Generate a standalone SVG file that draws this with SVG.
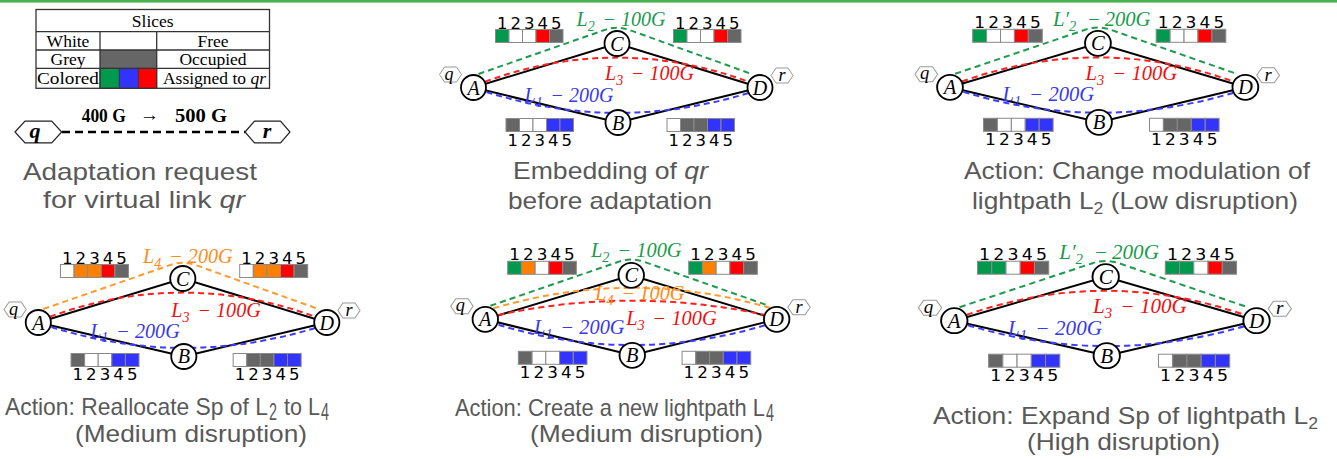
<svg xmlns="http://www.w3.org/2000/svg" width="1337" height="459" viewBox="0 0 1337 459">
<style>
.link{fill:none;stroke:#000;stroke-width:2}
.dash{fill:none;stroke-width:2;stroke-dasharray:6 4}
.dg{stroke:#1f9a4f}.dr{stroke:#ff2020}.db{stroke:#3d3dff}.do{stroke:#ff9a2e}
.node circle{fill:#fff;stroke:#000;stroke-width:1.8}
.nl{font-family:"Liberation Serif",serif;font-style:italic;font-size:20px;text-anchor:middle;fill:#000}
.hex{fill:#fff;stroke:#999;stroke-width:1}
.hl{font-family:"Liberation Serif",serif;font-style:italic;font-size:18px;text-anchor:middle;fill:#000}
.cells rect{stroke:#8a8a8a;stroke-width:1}
.w{fill:#fff}.k{fill:#666}.g{fill:#00994d}.r{fill:#ff0000}.b{fill:#3333ff}.o{fill:#ff8000}
.num{font-family:"DejaVu Sans",sans-serif;font-size:16.5px;text-anchor:middle;fill:#000}
.lab{font-family:"Liberation Serif",serif;font-style:italic;font-size:20px}
.sub{font-size:14px}
.tg{fill:#1a9b4b}.tr{fill:#f01010}.tb{fill:#3838f0}.to{fill:#ff8c1a}
.cap{font-family:"Liberation Sans",Arial,sans-serif;font-size:24px;fill:#595959}
.cs{font-size:16px}
.leg{font-family:"Liberation Serif",serif;font-size:17.5px;text-anchor:middle;fill:#000}
.tline{stroke:#333;stroke-width:1.3;fill:none}
.rq{fill:#fff;stroke:#222;stroke-width:1.2}
.rql{font-family:"Liberation Serif",serif;font-style:italic;font-weight:bold;font-size:22px;text-anchor:middle;fill:#000}
.rb{font-family:"Liberation Serif",serif;font-weight:bold;font-size:19px;fill:#000}
</style>

<rect x="0" y="0" width="1337" height="2.6" fill="#4caf50"/>

<!-- Legend -->
<g id="legend">
  <rect x="100" y="50" width="56.7" height="18.3" fill="#666"/>
  <rect x="100" y="68.3" width="19.3" height="20" fill="#00994d" stroke="#333" stroke-width="0.8"/>
  <rect x="119.3" y="68.3" width="19" height="20" fill="#3333ff" stroke="#333" stroke-width="0.8"/>
  <rect x="138.3" y="68.3" width="18.4" height="20" fill="#ff0000" stroke="#333" stroke-width="0.8"/>
  <rect class="tline" x="36" y="9.5" width="233.5" height="78.8"/>
  <path class="tline" d="M36,31.7H269.5M36,50H269.5M36,68.3H269.5M100,31.7V88.3M156.7,31.7V88.3"/>
  <text class="leg" x="152.7" y="27">Slices</text>
  <text class="leg" x="68" y="46.5">White</text>
  <text class="leg" x="213" y="46.5">Free</text>
  <text class="leg" x="68" y="65">Grey</text>
  <text class="leg" x="213" y="65">Occupied</text>
  <text class="leg" x="68" y="84" textLength="62" lengthAdjust="spacingAndGlyphs">Colored</text>
  <text class="leg" x="214.5" y="84">Assigned to <tspan font-style="italic">qr</tspan></text>
</g>

<!-- Adaptation request -->
<g id="request-link">
  <line x1="62" y1="132" x2="245" y2="132" stroke="#000" stroke-width="2.6" stroke-dasharray="8 5"/>
  <text class="rb" x="81.7" y="122" textLength="44" lengthAdjust="spacingAndGlyphs">400 G</text>
  <text class="rb" x="140" y="121" font-size="20">→</text>
  <text class="rb" x="175" y="122" textLength="52" lengthAdjust="spacingAndGlyphs">500 G</text>
</g>
<g id="req-q">
  <polygon class="rq" points="15,132 25,121.2 51.7,121.2 61.7,132 51.7,142.8 25,142.8"/>
  <text class="rql" x="35" y="138">q</text>
</g>
<g id="req-r">
  <polygon class="rq" points="245,132 254.5,121.2 280.5,121.2 290,132 280.5,142.8 254.5,142.8"/>
  <text class="rql" x="267" y="138">r</text>
</g>
<g id="caption-request">
  <text class="cap" x="23" y="180" textLength="234" lengthAdjust="spacingAndGlyphs">Adaptation request</text>
  <text class="cap" x="43" y="208" textLength="202" lengthAdjust="spacingAndGlyphs">for virtual link <tspan font-style="italic">qr</tspan></text>
</g>

<!-- Panel 2: embedding -->
<g id="panel-embedding" transform="translate(473.5,87.5)">
  <g id="p2-connectors">
    <path class="link" d="M0,0 L143.5,-44 L286.5,0 M0,0 L144.5,35 L286.5,0"/>
    <path class="dash dg" d="M5,-13.5 L131,-57.5 Q143.5,-62 156,-57.5 L278,-13.5"/>
    <path class="dash dr" d="M11.5,-5.8 Q143.5,-54 275,-5.8"/>
    <path class="dash db" d="M13,4.5 Q144,46 276.5,5"/>
  </g>
  <text class="lab tg" x="103" y="-61.5">L<tspan class="sub" dy="5">2</tspan><tspan x="129" dy="-5">−</tspan><tspan x="147.5">100G</tspan></text>
  <text class="lab tr" x="131.5" y="-7.5">L<tspan class="sub" dy="5">3</tspan><tspan x="157.5" dy="-5">−</tspan><tspan x="176">100G</tspan></text>
  <text class="lab tb" x="51" y="14">L<tspan class="sub" dy="5">1</tspan><tspan x="77" dy="-5">−</tspan><tspan x="95.5">200G</tspan></text>
  <g id="p2-slices-AC" class="cells"><rect class="g" x="22" y="-58" width="13.5" height="13"/><rect class="w" x="35.5" y="-58" width="13.5" height="13"/><rect class="w" x="49" y="-58" width="13.5" height="13"/><rect class="r" x="62.5" y="-58" width="13.5" height="13"/><rect class="k" x="76" y="-58" width="13.5" height="13"/><text class="num" x="28.75 42.25 55.75 69.25 82.75" y="-59">12345</text></g>
  <g id="p2-slices-CD" class="cells"><rect class="g" x="200" y="-58" width="13.5" height="13"/><rect class="w" x="213.5" y="-58" width="13.5" height="13"/><rect class="w" x="227" y="-58" width="13.5" height="13"/><rect class="r" x="240.5" y="-58" width="13.5" height="13"/><rect class="k" x="254" y="-58" width="13.5" height="13"/><text class="num" x="206.75 220.25 233.75 247.25 260.75" y="-59">12345</text></g>
  <g id="p2-slices-AB" class="cells"><rect class="k" x="32.5" y="31" width="13.5" height="13"/><rect class="w" x="46" y="31" width="13.5" height="13"/><rect class="w" x="59.5" y="31" width="13.5" height="13"/><rect class="b" x="73" y="31" width="13.5" height="13"/><rect class="b" x="86.5" y="31" width="13.5" height="13"/><text class="num" x="39.25 52.75 66.25 79.75 93.25" y="58">12345</text></g>
  <g id="p2-slices-BD" class="cells"><rect class="w" x="193.5" y="31" width="13.5" height="13"/><rect class="k" x="207" y="31" width="13.5" height="13"/><rect class="k" x="220.5" y="31" width="13.5" height="13"/><rect class="b" x="234" y="31" width="13.5" height="13"/><rect class="b" x="247.5" y="31" width="13.5" height="13"/><text class="num" x="200.25 213.75 227.25 240.75 254.25" y="58">12345</text></g>
  <g id="p2-q"><polygon class="hex" points="-34,-13 -29,-20.5 -17,-20.5 -12,-13 -17,-5.5 -29,-5.5"/><text class="hl" x="-24.5" y="-8">q</text></g>
  <g id="p2-r"><polygon class="hex" points="297.5,-12 302.5,-19.5 314.5,-19.5 319.5,-12 314.5,-4.5 302.5,-4.5"/><text class="hl" x="308.5" y="-6.5">r</text></g>
  <g id="p2-A" class="node"><circle cx="0" cy="0" r="12.5"/><text class="nl" x="0" y="7">A</text></g>
  <g id="p2-B" class="node"><circle cx="144.5" cy="35" r="12.5"/><text class="nl" x="144.5" y="42">B</text></g>
  <g id="p2-C" class="node"><circle cx="143.5" cy="-44" r="12.5"/><text class="nl" x="143.5" y="-37">C</text></g>
  <g id="p2-D" class="node"><circle cx="286.5" cy="0" r="12.5"/><text class="nl" x="286.5" y="7">D</text></g>
</g>
<g id="caption-embedding">
  <text class="cap" x="513" y="178.5" textLength="195" lengthAdjust="spacingAndGlyphs">Embedding of <tspan font-style="italic">qr</tspan></text>
  <text class="cap" x="508" y="208.5" textLength="204" lengthAdjust="spacingAndGlyphs">before adaptation</text>
</g>

<!-- Panel 3: change modulation -->
<g id="panel-modulation" transform="translate(950,87.3) scale(1.031,1)">
  <g id="p3-connectors">
    <path class="link" d="M0,0 L143.5,-44 L286.5,0 M0,0 L144.5,35 L286.5,0"/>
    <path class="dash dg" d="M5,-13.5 L131,-57.5 Q143.5,-62 156,-57.5 L278,-13.5"/>
    <path class="dash dr" d="M11.5,-5.8 Q143.5,-54 275,-5.8"/>
    <path class="dash db" d="M13,4.5 Q144,46 276.5,5"/>
  </g>
  <text class="lab tg" x="100" y="-61.5">L′<tspan class="sub" dy="5">2</tspan><tspan x="133" dy="-5">−</tspan><tspan x="150">200G</tspan></text>
  <text class="lab tr" x="131.5" y="-7.5">L<tspan class="sub" dy="5">3</tspan><tspan x="157.5" dy="-5">−</tspan><tspan x="176">100G</tspan></text>
  <text class="lab tb" x="51" y="14">L<tspan class="sub" dy="5">1</tspan><tspan x="77" dy="-5">−</tspan><tspan x="95.5">200G</tspan></text>
  <g id="p3-slices-AC" class="cells"><rect class="g" x="22" y="-58" width="13.5" height="13"/><rect class="w" x="35.5" y="-58" width="13.5" height="13"/><rect class="w" x="49" y="-58" width="13.5" height="13"/><rect class="r" x="62.5" y="-58" width="13.5" height="13"/><rect class="k" x="76" y="-58" width="13.5" height="13"/><text class="num" x="28.75 42.25 55.75 69.25 82.75" y="-59">12345</text></g>
  <g id="p3-slices-CD" class="cells"><rect class="g" x="200" y="-58" width="13.5" height="13"/><rect class="w" x="213.5" y="-58" width="13.5" height="13"/><rect class="w" x="227" y="-58" width="13.5" height="13"/><rect class="r" x="240.5" y="-58" width="13.5" height="13"/><rect class="k" x="254" y="-58" width="13.5" height="13"/><text class="num" x="206.75 220.25 233.75 247.25 260.75" y="-59">12345</text></g>
  <g id="p3-slices-AB" class="cells"><rect class="k" x="32.5" y="31" width="13.5" height="13"/><rect class="w" x="46" y="31" width="13.5" height="13"/><rect class="w" x="59.5" y="31" width="13.5" height="13"/><rect class="b" x="73" y="31" width="13.5" height="13"/><rect class="b" x="86.5" y="31" width="13.5" height="13"/><text class="num" x="39.25 52.75 66.25 79.75 93.25" y="58">12345</text></g>
  <g id="p3-slices-BD" class="cells"><rect class="w" x="193.5" y="31" width="13.5" height="13"/><rect class="k" x="207" y="31" width="13.5" height="13"/><rect class="k" x="220.5" y="31" width="13.5" height="13"/><rect class="b" x="234" y="31" width="13.5" height="13"/><rect class="b" x="247.5" y="31" width="13.5" height="13"/><text class="num" x="200.25 213.75 227.25 240.75 254.25" y="58">12345</text></g>
  <g id="p3-q"><polygon class="hex" points="-34,-13 -29,-20.5 -17,-20.5 -12,-13 -17,-5.5 -29,-5.5"/><text class="hl" x="-24.5" y="-8">q</text></g>
  <g id="p3-r"><polygon class="hex" points="297.5,-12 302.5,-19.5 314.5,-19.5 319.5,-12 314.5,-4.5 302.5,-4.5"/><text class="hl" x="308.5" y="-6.5">r</text></g>
  <g id="p3-A" class="node"><circle cx="0" cy="0" r="12.5"/><text class="nl" x="0" y="7">A</text></g>
  <g id="p3-B" class="node"><circle cx="144.5" cy="35" r="12.5"/><text class="nl" x="144.5" y="42">B</text></g>
  <g id="p3-C" class="node"><circle cx="143.5" cy="-44" r="12.5"/><text class="nl" x="143.5" y="-37">C</text></g>
  <g id="p3-D" class="node"><circle cx="286.5" cy="0" r="12.5"/><text class="nl" x="286.5" y="7">D</text></g>
</g>
<g id="caption-modulation">
  <text class="cap" x="964" y="178.5" textLength="346" lengthAdjust="spacingAndGlyphs">Action: Change modulation of</text>
  <text class="cap" x="972" y="208.5" textLength="326" lengthAdjust="spacingAndGlyphs">lightpath L<tspan class="cs" dy="5">2</tspan><tspan dy="-5"> (Low disruption)</tspan></text>
</g>

<!-- Panel 4: reallocate -->
<g id="panel-reallocate" transform="translate(38.3,322.5) scale(1.007,1)">
  <g id="p4-connectors">
    <path class="link" d="M0,0 L143.5,-44 L286.5,0 M0,0 L144.5,34 L286.5,0"/>
    <path class="dash do" d="M5,-13.5 L131,-57.5 Q143.5,-62 156,-57.5 L278,-13.5"/>
    <path class="dash dr" d="M11.5,-5.8 Q143.5,-54 275,-5.8"/>
    <path class="dash db" d="M13,4.5 Q144,46 276.5,5"/>
  </g>
  <text class="lab to" x="104" y="-60">L<tspan class="sub" dy="5">4</tspan><tspan x="130" dy="-5">−</tspan><tspan x="148.5">200G</tspan></text>
  <text class="lab tr" x="132" y="-6">L<tspan class="sub" dy="5">3</tspan><tspan x="158" dy="-5">−</tspan><tspan x="176.5">100G</tspan></text>
  <text class="lab tb" x="51.5" y="15">L<tspan class="sub" dy="5">1</tspan><tspan x="77.5" dy="-5">−</tspan><tspan x="96">200G</tspan></text>
  <g id="p4-slices-AC" class="cells"><rect class="w" x="22" y="-58" width="13.5" height="13"/><rect class="o" x="35.5" y="-58" width="13.5" height="13"/><rect class="o" x="49" y="-58" width="13.5" height="13"/><rect class="r" x="62.5" y="-58" width="13.5" height="13"/><rect class="k" x="76" y="-58" width="13.5" height="13"/><text class="num" x="28.75 42.25 55.75 69.25 82.75" y="-59">12345</text></g>
  <g id="p4-slices-CD" class="cells"><rect class="w" x="200" y="-58" width="13.5" height="13"/><rect class="o" x="213.5" y="-58" width="13.5" height="13"/><rect class="o" x="227" y="-58" width="13.5" height="13"/><rect class="r" x="240.5" y="-58" width="13.5" height="13"/><rect class="k" x="254" y="-58" width="13.5" height="13"/><text class="num" x="206.75 220.25 233.75 247.25 260.75" y="-59">12345</text></g>
  <g id="p4-slices-AB" class="cells"><rect class="k" x="32.5" y="31" width="13.5" height="13"/><rect class="w" x="46" y="31" width="13.5" height="13"/><rect class="w" x="59.5" y="31" width="13.5" height="13"/><rect class="b" x="73" y="31" width="13.5" height="13"/><rect class="b" x="86.5" y="31" width="13.5" height="13"/><text class="num" x="39.25 52.75 66.25 79.75 93.25" y="58">12345</text></g>
  <g id="p4-slices-BD" class="cells"><rect class="w" x="193.5" y="31" width="13.5" height="13"/><rect class="k" x="207" y="31" width="13.5" height="13"/><rect class="k" x="220.5" y="31" width="13.5" height="13"/><rect class="b" x="234" y="31" width="13.5" height="13"/><rect class="b" x="247.5" y="31" width="13.5" height="13"/><text class="num" x="200.25 213.75 227.25 240.75 254.25" y="58">12345</text></g>
  <g id="p4-q"><polygon class="hex" points="-34,-13 -29,-20.5 -17,-20.5 -12,-13 -17,-5.5 -29,-5.5"/><text class="hl" x="-24.5" y="-8">q</text></g>
  <g id="p4-r"><polygon class="hex" points="297.5,-12 302.5,-19.5 314.5,-19.5 319.5,-12 314.5,-4.5 302.5,-4.5"/><text class="hl" x="308.5" y="-6.5">r</text></g>
  <g id="p4-A" class="node"><circle cx="0" cy="0" r="12.5"/><text class="nl" x="0" y="7">A</text></g>
  <g id="p4-B" class="node"><circle cx="144.5" cy="34" r="12.5"/><text class="nl" x="144.5" y="41">B</text></g>
  <g id="p4-C" class="node"><circle cx="143.5" cy="-44" r="12.5"/><text class="nl" x="143.5" y="-37">C</text></g>
  <g id="p4-D" class="node"><circle cx="286.5" cy="0" r="12.5"/><text class="nl" x="286.5" y="7">D</text></g>
</g>
<g id="caption-reallocate">
  <text class="cap" x="5" y="415" font-size="23" textLength="263" lengthAdjust="spacingAndGlyphs">Action: Reallocate Sp of L</text>
  <text class="cap" x="269" y="420" font-size="15" textLength="8" lengthAdjust="spacingAndGlyphs">2</text>
  <text class="cap" x="284" y="415" font-size="23" textLength="36" lengthAdjust="spacingAndGlyphs">to L</text>
  <text class="cap" x="321" y="420" font-size="15" textLength="8" lengthAdjust="spacingAndGlyphs">4</text>
  <text class="cap" x="75" y="442" textLength="232" lengthAdjust="spacingAndGlyphs">(Medium disruption)</text>
</g>

<!-- Panel 5: new lightpath -->
<g id="panel-newpath" transform="translate(485.3,319.3) scale(1.017,1)">
  <g id="p5-connectors">
    <path class="link" d="M0,0 L143.5,-44 L286.5,0 M0,0 L144.5,36 L286.5,0"/>
    <path class="dash dg" d="M5,-13.5 L131,-57.5 Q143.5,-62 156,-57.5 L279,-13.5"/>
    <path class="dash do" d="M8,-11 Q145,-52 281,-11"/>
    <path class="dash dr" d="M12.8,-4.3 Q143.5,-33 275,-4.3"/>
    <path class="dash db" d="M13,5.5 Q144,46 276.5,5.5"/>
  </g>
  <text class="lab tg" x="104" y="-62.5">L<tspan class="sub" dy="5">2</tspan><tspan x="130" dy="-5">−</tspan><tspan x="148.5">100G</tspan></text>
  <text class="lab to" x="108" y="-19">L<tspan class="sub" dy="5">4</tspan><tspan x="134" dy="-5">−</tspan><tspan x="151.5">100G</tspan></text>
  <text class="lab tr" x="138.5" y="5.5">L<tspan class="sub" dy="5">3</tspan><tspan x="164.5" dy="-5">−</tspan><tspan x="183">100G</tspan></text>
  <text class="lab tb" x="48" y="14.7">L<tspan class="sub" dy="5">1</tspan><tspan x="74" dy="-5">−</tspan><tspan x="92.5">200G</tspan></text>
  <g id="p5-slices-AC" class="cells"><rect class="g" x="22" y="-58" width="13.5" height="13"/><rect class="o" x="35.5" y="-58" width="13.5" height="13"/><rect class="w" x="49" y="-58" width="13.5" height="13"/><rect class="r" x="62.5" y="-58" width="13.5" height="13"/><rect class="k" x="76" y="-58" width="13.5" height="13"/><text class="num" x="28.75 42.25 55.75 69.25 82.75" y="-59">12345</text></g>
  <g id="p5-slices-CD" class="cells"><rect class="g" x="200" y="-58" width="13.5" height="13"/><rect class="o" x="213.5" y="-58" width="13.5" height="13"/><rect class="w" x="227" y="-58" width="13.5" height="13"/><rect class="r" x="240.5" y="-58" width="13.5" height="13"/><rect class="k" x="254" y="-58" width="13.5" height="13"/><text class="num" x="206.75 220.25 233.75 247.25 260.75" y="-59">12345</text></g>
  <g id="p5-slices-AB" class="cells"><rect class="k" x="32.5" y="32" width="13.5" height="13"/><rect class="w" x="46" y="32" width="13.5" height="13"/><rect class="w" x="59.5" y="32" width="13.5" height="13"/><rect class="b" x="73" y="32" width="13.5" height="13"/><rect class="b" x="86.5" y="32" width="13.5" height="13"/><text class="num" x="39.25 52.75 66.25 79.75 93.25" y="59">12345</text></g>
  <g id="p5-slices-BD" class="cells"><rect class="w" x="193.5" y="32" width="13.5" height="13"/><rect class="k" x="207" y="32" width="13.5" height="13"/><rect class="k" x="220.5" y="32" width="13.5" height="13"/><rect class="b" x="234" y="32" width="13.5" height="13"/><rect class="b" x="247.5" y="32" width="13.5" height="13"/><text class="num" x="200.25 213.75 227.25 240.75 254.25" y="59">12345</text></g>
  <g id="p5-q"><polygon class="hex" points="-34,-13 -29,-20.5 -17,-20.5 -12,-13 -17,-5.5 -29,-5.5"/><text class="hl" x="-24.5" y="-8">q</text></g>
  <g id="p5-r"><polygon class="hex" points="297.5,-12 302.5,-19.5 314.5,-19.5 319.5,-12 314.5,-4.5 302.5,-4.5"/><text class="hl" x="308.5" y="-6.5">r</text></g>
  <g id="p5-A" class="node"><circle cx="0" cy="0" r="12.5"/><text class="nl" x="0" y="7">A</text></g>
  <g id="p5-B" class="node"><circle cx="144.5" cy="36" r="12.5"/><text class="nl" x="144.5" y="43">B</text></g>
  <g id="p5-C" class="node"><circle cx="143.5" cy="-44" r="12.5"/><text class="nl" x="143.5" y="-37">C</text></g>
  <g id="p5-D" class="node"><circle cx="286.5" cy="0" r="12.5"/><text class="nl" x="286.5" y="7">D</text></g>
</g>
<g id="caption-newpath">
  <text class="cap" x="455" y="416" font-size="22" textLength="310" lengthAdjust="spacingAndGlyphs">Action: Create a new lightpath L</text>
  <text class="cap" x="766" y="421" font-size="15" textLength="8" lengthAdjust="spacingAndGlyphs">4</text>
  <text class="cap" x="530" y="442" textLength="233" lengthAdjust="spacingAndGlyphs">(Medium disruption)</text>
</g>

<!-- Panel 6: expand -->
<g id="panel-expand" transform="translate(954.3,320.7) scale(1.055,1)">
  <g id="p6-connectors">
    <path class="link" d="M0,0 L143.5,-44 L286.5,0 M0,0 L144.5,35 L286.5,0"/>
    <path class="dash dg" d="M5,-13.5 L131,-57.5 Q143.5,-62 156,-57.5 L278,-13.5"/>
    <path class="dash dr" d="M11.5,-5.8 Q143.5,-54 275,-5.8"/>
    <path class="dash db" d="M13,4.5 Q144,46 276.5,5"/>
  </g>
  <text class="lab tg" x="99.5" y="-61.5">L′<tspan class="sub" dy="5">2</tspan><tspan x="132.5" dy="-5">−</tspan><tspan x="149.5">200G</tspan></text>
  <text class="lab tr" x="131.5" y="-7.5">L<tspan class="sub" dy="5">3</tspan><tspan x="157.5" dy="-5">−</tspan><tspan x="176">100G</tspan></text>
  <text class="lab tb" x="51" y="14">L<tspan class="sub" dy="5">1</tspan><tspan x="77" dy="-5">−</tspan><tspan x="95.5">200G</tspan></text>
  <g id="p6-slices-AC" class="cells"><rect class="g" x="22" y="-59.5" width="13.5" height="13"/><rect class="g" x="35.5" y="-59.5" width="13.5" height="13"/><rect class="w" x="49" y="-59.5" width="13.5" height="13"/><rect class="r" x="62.5" y="-59.5" width="13.5" height="13"/><rect class="k" x="76" y="-59.5" width="13.5" height="13"/><text class="num" x="28.75 42.25 55.75 69.25 82.75" y="-60.5">12345</text></g>
  <g id="p6-slices-CD" class="cells"><rect class="g" x="200" y="-59.5" width="13.5" height="13"/><rect class="g" x="213.5" y="-59.5" width="13.5" height="13"/><rect class="w" x="227" y="-59.5" width="13.5" height="13"/><rect class="r" x="240.5" y="-59.5" width="13.5" height="13"/><rect class="k" x="254" y="-59.5" width="13.5" height="13"/><text class="num" x="206.75 220.25 233.75 247.25 260.75" y="-60.5">12345</text></g>
  <g id="p6-slices-AB" class="cells"><rect class="k" x="32.5" y="33.5" width="13.5" height="13"/><rect class="w" x="46" y="33.5" width="13.5" height="13"/><rect class="w" x="59.5" y="33.5" width="13.5" height="13"/><rect class="b" x="73" y="33.5" width="13.5" height="13"/><rect class="b" x="86.5" y="33.5" width="13.5" height="13"/><text class="num" x="39.25 52.75 66.25 79.75 93.25" y="60.5">12345</text></g>
  <g id="p6-slices-BD" class="cells"><rect class="w" x="193.5" y="33.5" width="13.5" height="13"/><rect class="k" x="207" y="33.5" width="13.5" height="13"/><rect class="k" x="220.5" y="33.5" width="13.5" height="13"/><rect class="b" x="234" y="33.5" width="13.5" height="13"/><rect class="b" x="247.5" y="33.5" width="13.5" height="13"/><text class="num" x="200.25 213.75 227.25 240.75 254.25" y="60.5">12345</text></g>
  <g id="p6-q"><polygon class="hex" points="-34,-13 -29,-20.5 -17,-20.5 -12,-13 -17,-5.5 -29,-5.5"/><text class="hl" x="-24.5" y="-8">q</text></g>
  <g id="p6-r"><polygon class="hex" points="297.5,-12 302.5,-19.5 314.5,-19.5 319.5,-12 314.5,-4.5 302.5,-4.5"/><text class="hl" x="308.5" y="-6.5">r</text></g>
  <g id="p6-A" class="node"><circle cx="0" cy="0" r="12.5"/><text class="nl" x="0" y="7">A</text></g>
  <g id="p6-B" class="node"><circle cx="144.5" cy="35" r="12.5"/><text class="nl" x="144.5" y="42">B</text></g>
  <g id="p6-C" class="node"><circle cx="143.5" cy="-44" r="12.5"/><text class="nl" x="143.5" y="-37">C</text></g>
  <g id="p6-D" class="node"><circle cx="286.5" cy="0" r="12.5"/><text class="nl" x="286.5" y="7">D</text></g>
</g>
<g id="caption-expand">
  <text class="cap" x="933" y="424" textLength="385" lengthAdjust="spacingAndGlyphs">Action: Expand Sp of lightpath L<tspan class="cs" dy="5">2</tspan></text>
  <text class="cap" x="1027" y="450" textLength="193" lengthAdjust="spacingAndGlyphs">(High disruption)</text>
</g>
</svg>
